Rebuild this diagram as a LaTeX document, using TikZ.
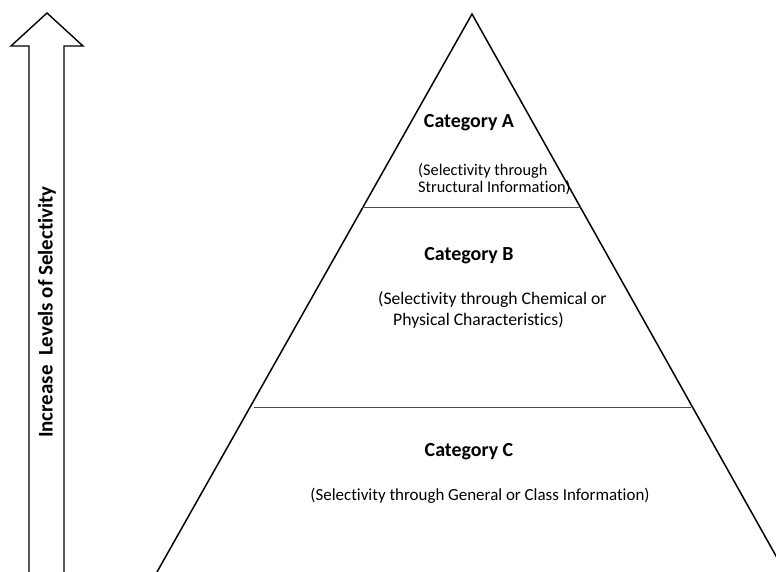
\documentclass[tikz,border=0pt]{standalone}
\usepackage{fontspec}
\setmainfont{Carlito}[Ligatures=NoCommon]
\usetikzlibrary{calc}
\begin{document}
\begin{tikzpicture}[x=1bp,y=-1bp,
  side/.style={line width=1.5bp,black},
  sep/.style={line width=1bp,black!70},
  cat/.style={font=\fontsize{20}{24}\selectfont\bfseries,inner sep=0pt},
  desc/.style={font=\fontsize{17}{18}\selectfont,inner sep=0pt,align=left},
  bigarrow/.style={line width=1.4bp,black,fill=white}]
\useasboundingbox (0,0) rectangle (776,572);
\begin{scope}
\clip (0,0) rectangle (776,572);
% pyramid
\coordinate (apex) at (472,14);
\coordinate (bl) at (157,572);
\coordinate (br) at (785,572);
\draw[side] (bl) -- (apex) -- (br);
\coordinate (abL) at ($(apex)!{(208-14)/558}!(bl)$);
\coordinate (abR) at ($(apex)!{(208-14)/558}!(br)$);
\coordinate (bcL) at ($(apex)!{(407-14)/558}!(bl)$);
\coordinate (bcR) at ($(apex)!{(407-14)/558}!(br)$);
\draw[sep] (abL) -- (abR);
\draw[sep] ([xshift=4bp]bcL) -- ([xshift=-1bp]bcR);
% arrow
\draw[bigarrow] (29,580) -- (29,46) -- (11,46) -- (47,13) -- (83,46) -- (64,46) -- (64,580);
\end{scope}
\node[cat] (catA) at (469,123) {Category A};
\node[desc,anchor=west,font=\fontsize{16.4}{17.5}\selectfont] (descA) at (418,179) {(Selectivity through\\Structural Information)};
\node[cat] (catB) at (469,256) {Category B};
\node[desc,anchor=west,font=\fontsize{17.7}{21}\selectfont] (descB) at (378,310) {(Selectivity through Chemical or\\\hspace{15bp}Physical Characteristics)};
\node[cat] (catC) at (469,452) {Category C};
\node[desc] (descC) at (480,496) {(Selectivity through General or Class Information)};
\node[cat,rotate=90,font=\fontsize{21}{24}\selectfont\bfseries] (arrowtext) at (47,312) {Increase\ \ Levels of Selectivity};
\end{tikzpicture}
\end{document}
